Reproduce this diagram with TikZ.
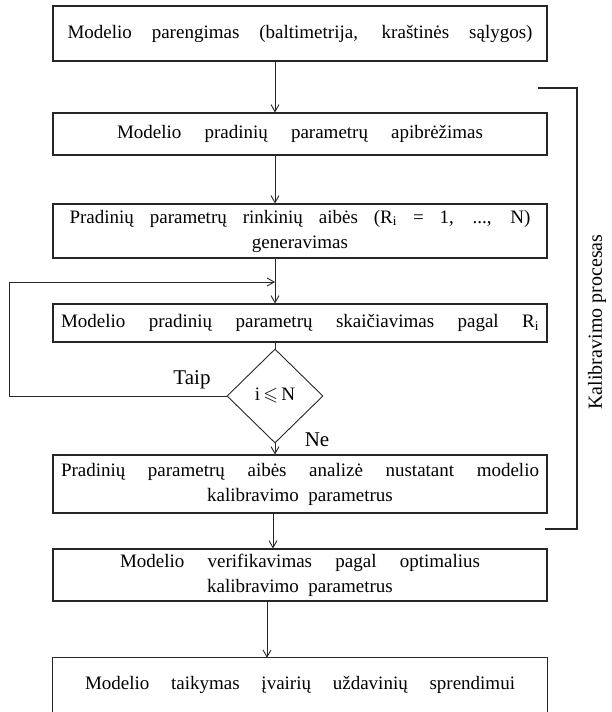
\documentclass[tikz,border=0pt]{standalone}
\usepackage{fontspec}
\usepackage{amssymb}
\setmainfont{Liberation Serif}
\usetikzlibrary{arrows.meta,shapes.geometric,calc}
\begin{document}
\begin{tikzpicture}[x=1pt,y=-1pt,
  box/.style={draw=black!85, line width=1.1pt, minimum width=494pt, inner sep=0pt,
    font=\fontsize{19}{25}\selectfont, align=center},
  openbox/.style={minimum width=494pt, inner sep=0pt,
    font=\fontsize{19}{25}\selectfont, align=center},
  conn/.style={draw=black!85, line width=0.9pt},
  arr/.style={conn, -{Straight Barb[length=7pt,width=8pt]}},
  lbl/.style={font=\fontsize{21}{25}\selectfont, inner sep=0pt}]
\useasboundingbox (0,0) rectangle (611,712);
\node[box, minimum height=55pt] (b1) at (300,33.5)
  {\makebox[465pt][s]{Modelio parengimas (baltimetrija, kraštinės sąlygos)}};
\node[box, minimum height=42pt] (b2) at (300,134)
  {\makebox[366pt][s]{Modelio pradinių parametrų apibrėžimas}};
\node[box, minimum height=54pt] (b3) at (300,231)
  {\makebox[461pt][s]{Pradinių parametrų rinkinių aibės (R\textsubscript{i} = 1, ..., N)}\\generavimas};
\node[box, minimum height=38pt] (b4) at (300,323)
  {\makebox[478pt][s]{Modelio pradinių parametrų skaičiavimas pagal R\textsubscript{i}}};
\node[draw=black!85, line width=0.9pt, diamond, aspect=1, minimum width=96pt, minimum height=94pt,
  inner sep=0pt, font=\fontsize{19}{23}\selectfont] (d) at (275,396) {i\,$\leqslant$\,N};
\node[box, minimum height=58pt] (b5) at (300,484)
  {\makebox[478pt][s]{Pradinių parametrų aibės analizė nustatant modelio}\\kalibravimo\ \ parametrus};
\node[box, minimum height=52pt] (b6) at (300,575)
  {\makebox[360pt][s]{Modelio verifikavimas pagal optimalius}\\kalibravimo\ \ parametrus};
\node[openbox, minimum height=54pt] (b7) at (300,685)
  {\raisebox{-3pt}{\makebox[430pt][s]{Modelio taikymas įvairių uždavinių sprendimui}}};
\draw[conn, line width=1.1pt] (b7.south west) -- (b7.north west) -- (b7.north east) -- (b7.south east);

\coordinate (lp) at (275,282);
\coordinate (lc) at (9,282);
\draw[arr] (b1.south -| d.north) -- (b2.north -| d.north);
\draw[arr] (b2.south -| d.north) -- (b3.north -| d.north);
\draw[arr] (b3.south -| d.north) -- (b4.north -| d.north);
\draw[conn] (b4.south -| d.north) -- (d.north);
\draw[arr] (d.south) -- (b5.north -| d.south);
\draw[arr] ($(b5.south -| d.south)+(-2,0)$) -- ($(b6.north -| d.south)+(-2,0)$);
\draw[arr] ($(b6.south -| d.south)+(-8,0)$) -- ($(b7.north -| d.south)+(-8,0)$);
\draw[arr] (d.west) -| (lc) -- (lp);

\node[lbl] (taip) at (192,380) {Taip};
\node[lbl] (ne) at (317,440) {Ne};

\coordinate (k1) at (538,88);
\coordinate (k2) at (577,88);
\coordinate (k3) at (577,529);
\coordinate (k4) at (545,529);
\draw[conn, line width=1.1pt] (k1) -- (k2) -- (k3) -- (k4);
\node[rotate=90, font=\fontsize{20}{24}\selectfont, inner sep=0pt] (kp) at (597,322) {Kalibravimo procesas};
\end{tikzpicture}
\end{document}
